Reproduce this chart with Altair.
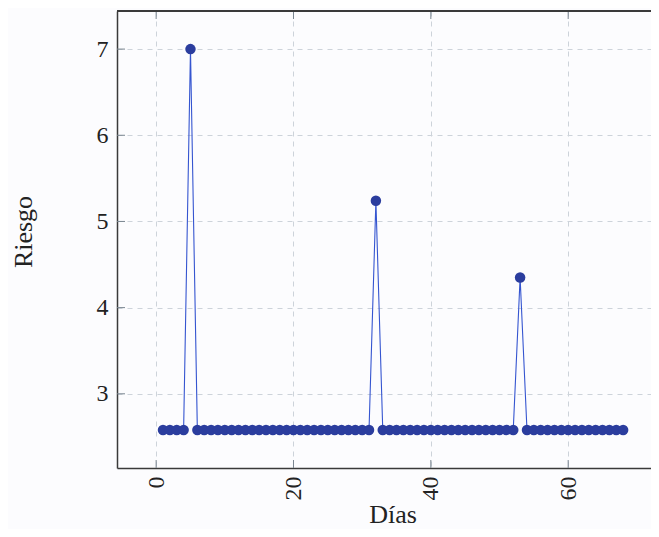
import altair as alt
import pandas as pd

dias = list(range(1, 69))
riesgo = [2.58, 2.58, 2.58, 2.58, 7.0, 2.58, 2.58, 2.58, 2.58, 2.58,
          2.58, 2.58, 2.58, 2.58, 2.58, 2.58, 2.58, 2.58, 2.58, 2.58,
          2.58, 2.58, 2.58, 2.58, 2.58, 2.58, 2.58, 2.58, 2.58, 2.58,
          2.58, 5.24, 2.58, 2.58, 2.58, 2.58, 2.58, 2.58, 2.58, 2.58,
          2.58, 2.58, 2.58, 2.58, 2.58, 2.58, 2.58, 2.58, 2.58, 2.58,
          2.58, 2.58, 4.35, 2.58, 2.58, 2.58, 2.58, 2.58, 2.58, 2.58,
          2.58, 2.58, 2.58, 2.58, 2.58, 2.58, 2.58, 2.58]
x_ticks = [0, 20, 40, 60]
y_ticks = [3, 4, 5, 6, 7]

W, H = 534, 457
FONT = "Liberation Serif"
xdom = [-5.7, 72.06]
ydom = [2.139, 7.442]

df = pd.DataFrame({"d": dias, "r": riesgo})
xt = pd.DataFrame({"d": x_ticks})
yt = pd.DataFrame({"r": y_ticks})

xscale = alt.Scale(domain=xdom, nice=False, zero=False)
yscale = alt.Scale(domain=ydom, nice=False, zero=False)

grid_color = "#cdd3da"
axis_color = "#3a3a3a"

x_axis = alt.Axis(values=x_ticks, labelAngle=270, grid=True, gridDash=[5, 5],
                  gridColor=grid_color, gridWidth=1, domainColor=axis_color,
                  domainWidth=1.5, ticks=False, tickSize=0, labelPadding=8,
                  labelFont=FONT, labelFontSize=24, labelColor="#222",
                  title="Días", titleFont=FONT, titleFontSize=26,
                  titleFontWeight="normal", titleColor="#222",
                  titleX=275.5, titleY=54, titleBaseline="alphabetic",
                  titleAlign="center")
y_axis = alt.Axis(values=y_ticks, grid=True, gridDash=[5, 5],
                  gridColor=grid_color, gridWidth=1, domainColor=axis_color,
                  domainWidth=1.5, ticks=False, tickSize=0, labelPadding=9,
                  labelFont=FONT, labelFontSize=24, labelColor="#222",
                  title="Riesgo", titleFont=FONT, titleFontSize=26,
                  titleFontWeight="normal", titleColor="#222",
                  titleX=-94, titleY=220.5, titleAngle=270,
                  titleBaseline="middle", titleAlign="center")

X = alt.X("d:Q", scale=xscale, axis=x_axis)
Y = alt.Y("r:Q", scale=yscale, axis=y_axis)

line = alt.Chart(df).mark_line(color="#3555d0", strokeWidth=1.1).encode(x=X, y=Y)
pts = alt.Chart(df).mark_circle(color="#2b3d9e", opacity=1, size=110).encode(x=X, y=Y)
ytick = alt.Chart(yt).mark_rule(color="#7a8590", strokeWidth=1).encode(
    y=Y, x=alt.value(0), x2=alt.value(8),
)
xtick_b = alt.Chart(xt).mark_rule(color="#7a8590", strokeWidth=1).encode(
    x=X, y=alt.value(H), y2=alt.value(H - 8),
)
xtick_t = alt.Chart(xt).mark_rule(color="#7a8590", strokeWidth=1).encode(
    x=X, y=alt.value(0), y2=alt.value(8),
)
top = alt.Chart(xt).mark_rule(color=axis_color, strokeWidth=1.5).encode(
    x=alt.value(0), x2=alt.value(W), y=alt.value(0),
)

chart = alt.layer(line, pts, ytick, xtick_b, xtick_t, top).properties(
    width=W, height=H,
    autosize=alt.AutoSizeParams(type="none"),
    padding={"left": 109, "top": 3, "right": 0, "bottom": 61},
    background="#fcfcfe",
).configure_view(stroke=None)

chart.save("out.html", embed_options={"renderer": "svg", "actions": False})
